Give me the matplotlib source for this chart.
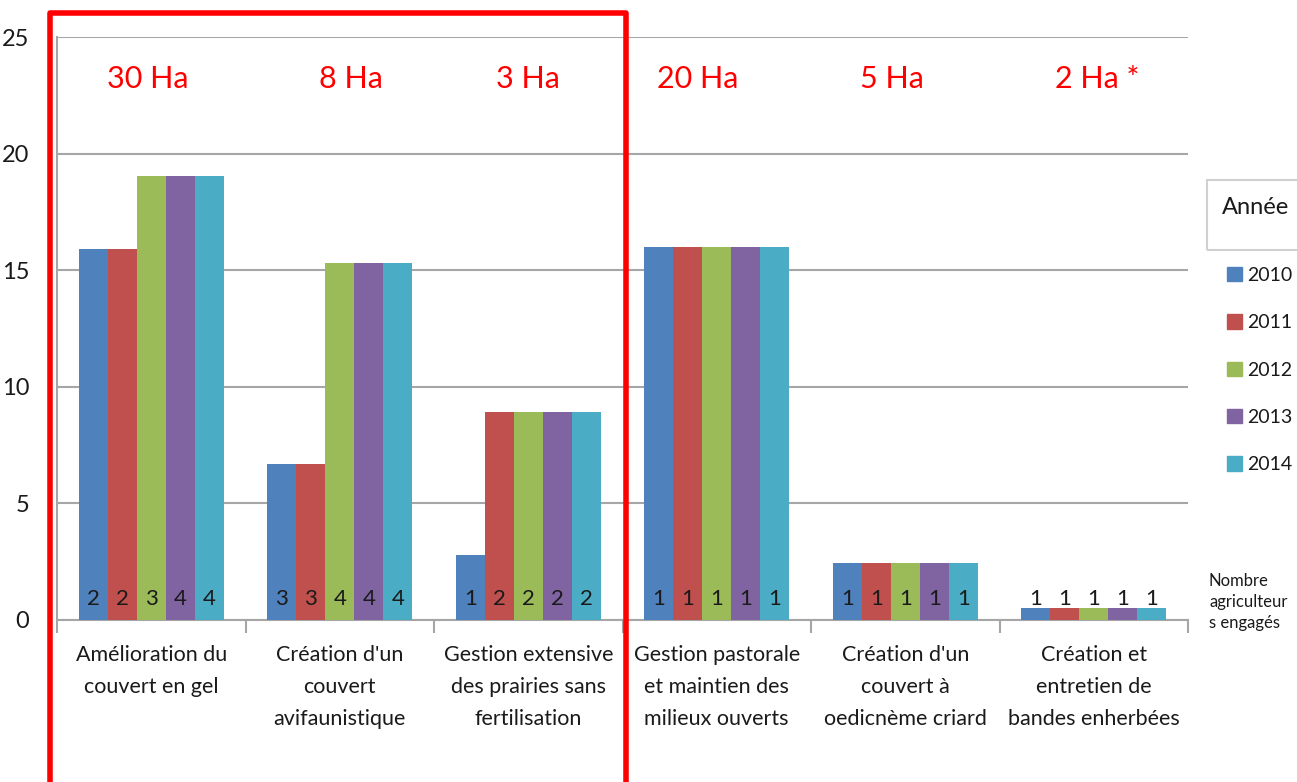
import numpy as np
import matplotlib.pyplot as plt
from matplotlib.lines import Line2D

plt.rcParams['font.family'] = ['Lato', 'DejaVu Sans']

categories = ["Amélioration du\ncouvert en gel",
              "Création d'un\ncouvert\navifaunistique",
              "Gestion extensive\ndes prairies sans\nfertilisation",
              "Gestion pastorale\net maintien des\nmilieux ouverts",
              "Création d'un\ncouvert à\noedicnème criard",
              "Création et\nentretien de\nbandes enherbées"]
years = ['2010', '2011', '2012', '2013', '2014']
# one row per year, one column per category
values = np.array([
    [15.9, 6.7, 2.8, 16.0, 2.45, 0.5],
    [15.9, 6.7, 8.9, 16.0, 2.45, 0.5],
    [19.05, 15.3, 8.9, 16.0, 2.45, 0.5],
    [19.05, 15.3, 8.9, 16.0, 2.45, 0.5],
    [19.05, 15.3, 8.9, 16.0, 2.45, 0.5],
])
farmers = np.array([
    [2, 3, 1, 1, 1, 1],
    [2, 3, 2, 1, 1, 1],
    [3, 4, 2, 1, 1, 1],
    [4, 4, 2, 1, 1, 1],
    [4, 4, 2, 1, 1, 1],
])
surfaces = ['30 Ha', '8 Ha', '3 Ha', '20 Ha', '5 Ha', '2 Ha *']
surf_shift = [-0.02, 0.06, 0.0, -0.1, -0.07, 0.02]

colors = ['#4F81BD', '#C0504D', '#9BBB59', '#8064A2', '#4BACC6']
grid_c = '#A6A6A6'
txt_c = '#1A1A1A'

fig = plt.figure(figsize=(12.97, 7.82), dpi=100)
ax = fig.add_axes([57/1297, 1-620/782, (1188-57)/1297, (620-37)/782])

x = np.arange(len(categories))
w = 0.154
for i, yr in enumerate(years):
    pos = x + (i - 2) * w
    ax.bar(pos, values[i], width=w, color=colors[i], label=yr, zorder=3)
    for p, n in zip(pos, farmers[i]):
        ax.text(p, 0.9, str(n), ha='center', va='center', fontsize=16,
                color=txt_c, zorder=4)

for k, s in enumerate(surfaces):
    ax.text(x[k] + surf_shift[k], 23.2, s, ha='center', va='center',
            fontsize=22, color='#FF0000')

ax.set_xlim(-0.5, len(categories) - 0.5)
ax.set_ylim(0, 25)
ax.set_yticks(np.arange(0, 26, 5))
ax.yaxis.grid(True, color=grid_c, linewidth=1.5, zorder=0)
ax.set_axisbelow(True)
ax.tick_params(axis='y', length=0, pad=20, labelsize=17, labelcolor=txt_c)
ax.set_xticks(x)
ax.set_xticklabels(categories, fontsize=15.5, color=txt_c, linespacing=1.75,
                   va='top')
ax.tick_params(axis='x', length=0, pad=18)
ax.set_xticks(np.arange(-0.5, len(categories)), minor=True)
ax.tick_params(axis='x', which='minor', length=9, width=1.5, color=grid_c,
               direction='out')
for side in ['top', 'right']:
    ax.spines[side].set_visible(False)
for side in ['left', 'bottom']:
    ax.spines[side].set_color(grid_c)
    ax.spines[side].set_linewidth(1.5)

# legend
handles = [plt.Rectangle((0, 0), 1, 1, color=c) for c in colors]
leg = fig.legend(handles, years, loc='upper left', bbox_to_anchor=(1227/1297, 1-267/782),
                 frameon=False, fontsize=14, handlelength=0.75, handleheight=0.75,
                 handletextpad=0.3, labelspacing=1.56, borderaxespad=0,
                 borderpad=0)
for t in leg.get_texts():
    t.set_color(txt_c)

fig.patches.append(plt.Rectangle((1207/1297, 1-250/782), 0.1, 70/782,
                                 transform=fig.transFigure, fill=False,
                                 edgecolor='#D0D0D0', linewidth=1.5))
fig.text(1222/1297, 1-208/782, 'Année', fontsize=17, color=txt_c,
         va='center', ha='left')
fig.text(1209/1297, 1-602/782, 'Nombre\nagriculteur\ns engagés', fontsize=12,
         color=txt_c, va='center', ha='left', linespacing=1.4)

# red frame around the first three measures
fx = [50/1297, 50/1297, 626/1297, 626/1297]
fy = [-0.02, 1-13/782, 1-13/782, -0.02]
fig.lines.append(Line2D(fx, fy, transform=fig.transFigure, color='#FF0000',
                        linewidth=4, solid_joinstyle='round'))

fig.savefig('out.png', dpi=100)
